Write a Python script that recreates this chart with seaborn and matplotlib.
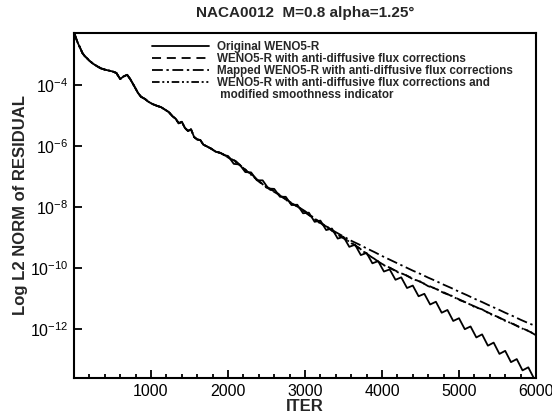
import numpy as np
import pandas as pd
import matplotlib
matplotlib.use("Agg")
import matplotlib.pyplot as plt
import seaborn as sns
from matplotlib.lines import Line2D
from matplotlib.ticker import FixedLocator, MultipleLocator, FuncFormatter, NullLocator

# ---------------- data (log10 of L2 residual) ----------------
common_iter = [0, 20, 50, 80, 110, 140, 170, 200, 250, 300, 350, 400, 450, 500, 550,
               600, 640, 690, 730, 780, 830, 870, 920, 970, 1020, 1080, 1130, 1180,
               1230, 1280, 1320, 1360, 1400, 1440, 1480, 1520, 1560, 1600, 1640, 1680,
               1720, 1780, 1840, 1900, 1960]
common_log = [-2.25, -2.42, -2.62, -2.78, -2.95, -3.05, -3.12, -3.20, -3.30, -3.38,
              -3.45, -3.49, -3.52, -3.55, -3.60, -3.80, -3.72, -3.66, -3.80, -4.02,
              -4.25, -4.38, -4.45, -4.55, -4.62, -4.68, -4.72, -4.80, -4.88, -5.02,
              -5.10, -5.25, -5.20, -5.40, -5.50, -5.45, -5.70, -5.78, -5.80, -5.95,
              -6.00, -6.08, -6.18, -6.22, -6.30]

orig_iter = [2000, 2075, 2150, 2225, 2300, 2375, 2450, 2525, 2600, 2675, 2750, 2825,
             2900, 2975, 3050, 3125, 3200, 3275, 3350, 3425, 3500, 3575, 3650, 3725,
             3800, 3875, 3950, 4025, 4100, 4175, 4250, 4325, 4400, 4475, 4550, 4625,
             4700, 4775, 4850, 4925, 5000, 5075, 5150, 5225, 5300, 5375, 5450, 5525,
             5600, 5675, 5750, 5825, 5900, 5975, 6000]
orig_log = [-6.32, -6.58, -6.60, -6.85, -6.86, -7.12, -7.12, -7.39, -7.40, -7.66,
            -7.66, -7.93, -7.92, -8.20, -8.18, -8.48, -8.44, -8.75, -8.70, -9.03,
            -8.97, -9.30, -9.23, -9.57, -9.50, -9.84, -9.77, -10.11, -10.04, -10.38,
            -10.30, -10.65, -10.57, -10.92, -10.84, -11.19, -11.10, -11.46, -11.37,
            -11.73, -11.64, -12.00, -11.91, -12.27, -12.17, -12.54, -12.44, -12.81,
            -12.71, -13.08, -12.98, -13.35, -13.25, -13.62, -13.58]

tail_iter = [2000, 2100, 2200, 2300, 2400, 2500, 2600, 2700, 2800, 2900, 3000, 3100,
             3200, 3300, 3400, 3500, 3600, 3700, 3800, 3900, 4000, 4100, 4200, 4300,
             4400, 4500, 4600, 4700, 4800, 4900, 5000, 5100, 5200, 5300, 5400, 5500,
             5600, 5700, 5800, 5900, 6000]
anti_log = [-6.36, -6.50, -6.74, -6.92, -7.16, -7.35, -7.48, -7.66, -7.84, -7.98,
            -8.15, -8.36, -8.52, -8.68, -8.86, -9.02, -9.16, -9.34, -9.52, -9.70,
            -9.86, -9.99, -10.11, -10.22, -10.34, -10.45, -10.57, -10.68, -10.79,
            -10.91, -11.02, -11.14, -11.25, -11.36, -11.48, -11.60, -11.71, -11.83,
            -11.94, -12.06, -12.18]
mapped_log = [-6.35, -6.49, -6.72, -6.90, -7.15, -7.33, -7.47, -7.64, -7.82, -7.97,
              -8.13, -8.32, -8.50, -8.67, -8.82, -8.96, -9.10, -9.22, -9.35, -9.47,
              -9.60, -9.72, -9.84, -9.96, -10.08, -10.19, -10.31, -10.42, -10.54,
              -10.65, -10.77, -10.88, -11.00, -11.11, -11.23, -11.34, -11.46, -11.57,
              -11.69, -11.80, -11.90]
modsi_log = [-6.37, -6.52, -6.72, -6.94, -7.14, -7.36, -7.50, -7.65, -7.85, -7.97,
             -8.17, -8.34, -8.54, -8.66, -8.88, -9.00, -9.18, -9.33, -9.54, -9.69,
             -9.88, -9.98, -10.13, -10.21, -10.36, -10.44, -10.59, -10.67, -10.81,
             -10.90, -11.04, -11.13, -11.27, -11.35, -11.50, -11.59, -11.73, -11.82,
             -11.96, -12.05, -12.20]

labels = ["Original WENO5-R",
          "WENO5-R with anti-diffusive flux corrections",
          "Mapped WENO5-R with anti-diffusive flux corrections",
          "WENO5-R with anti-diffusive flux corrections and",
          " modified smoothness indicator"]
y_tick_exps = [-4, -6, -8, -10, -12]
x_major = [1000, 2000, 3000, 4000, 5000, 6000]

# ---------------- style ----------------
sns.set_style("ticks")
plt.rcParams["font.family"] = ["Liberation Sans", "DejaVu Sans"]
plt.rcParams["mathtext.fontset"] = "custom"
plt.rcParams["mathtext.rm"] = "Liberation Sans"
plt.rcParams["mathtext.it"] = "Liberation Sans:italic"
plt.rcParams["mathtext.bf"] = "Liberation Sans:bold"

fig = plt.figure(figsize=(5.52, 4.18), dpi=100)
ax = fig.add_axes([74 / 552, 1 - 378 / 418, 462 / 552, 345 / 418])

def series(tail_x, tail_y):
    x = common_iter + tail_x
    y = common_log + tail_y
    return pd.DataFrame({"iter": x, "res": [10.0 ** v for v in y]})

styles = [
    (series(orig_iter, orig_log), "-"),
    (series(tail_iter, anti_log), (0, (5.0, 3.2))),
    (series(tail_iter, mapped_log), (0, (6.0, 2.0, 1.3, 2.0))),
    (series(tail_iter, modsi_log), (0, (4.2, 1.5, 1.1, 1.5, 1.1, 1.5))),
]
for df, ls in styles:
    sns.lineplot(data=df, x="iter", y="res", ax=ax, color="black", lw=1.3,
                 linestyle=ls, sort=False, estimator=None)

ax.set_yscale("log")
ax.set_xlim(0, 6000)
ax.set_ylim(10 ** -13.6, 10 ** -2.29)

ax.yaxis.set_major_locator(FixedLocator([10.0 ** e for e in y_tick_exps]))
ax.yaxis.set_minor_locator(NullLocator())
ax.yaxis.set_major_formatter(FuncFormatter(
    lambda v, p: r"$\mathregular{10^{%d}}$" % int(round(np.log10(v)))))
ax.xaxis.set_major_locator(FixedLocator(x_major))
ax.xaxis.set_minor_locator(MultipleLocator(200))

for s in ax.spines.values():
    s.set_linewidth(1.5)
    s.set_color("black")
ax.tick_params(which="both", direction="in", top=False, right=False,
               color="black", width=1.3, labelsize=11.5, labelcolor="black")
ax.tick_params(which="major", length=6, pad=4)
ax.tick_params(which="minor", length=3)

ax.set_xlabel("ITER", fontsize=12, fontweight="bold")
ax.set_ylabel("Log L2 NORM of RESIDUAL", fontsize=12, fontweight="bold")
ax.xaxis.set_label_coords(0.5, -0.06)
ax.yaxis.set_label_coords(-0.10, 0.5)

fig.text(305 / 552, 1 - 13 / 418, "NACA0012  M=0.8 alpha=1.25°", ha="center",
         va="center", fontsize=11, fontweight="bold")

handles = [Line2D([], [], color="black", lw=1.3, linestyle=ls) for _, ls in styles]
handles.append(Line2D([], [], color="none", lw=0))
leg = ax.legend(handles, labels, loc="upper left", bbox_to_anchor=(0.169, 0.978),
                frameon=False, handlelength=4.9, handletextpad=0.65,
                labelspacing=0.0, borderpad=0, borderaxespad=0,
                prop={"weight": "bold", "size": 8.4})

fig.savefig("out.png", dpi=100)
